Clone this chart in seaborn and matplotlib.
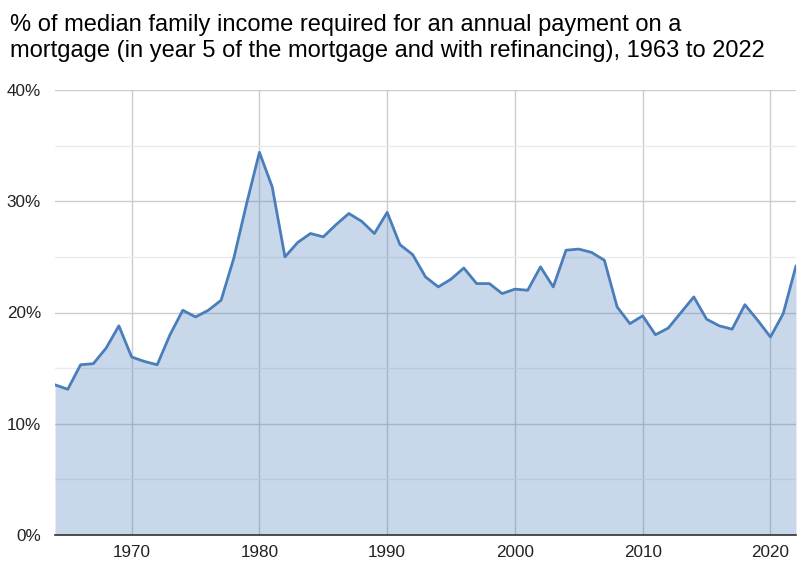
import numpy as np
import pandas as pd
import seaborn as sns
import matplotlib.pyplot as plt
from matplotlib.ticker import FixedLocator, FuncFormatter

# values (% of median family income)
years = list(range(1964, 2023))
share = [13.5, 13.1, 15.3, 15.4, 16.8, 18.8, 16.0, 15.6, 15.3, 18.0,
         20.2, 19.6, 20.2, 21.1, 24.9, 29.8, 34.4, 31.3, 25.0, 26.3,
         27.1, 26.8, 27.9, 28.9, 28.2, 27.1, 29.0, 26.1, 25.2, 23.2,
         22.3, 23.0, 24.0, 22.6, 22.6, 21.7, 22.1, 22.0, 24.1, 22.3,
         25.6, 25.7, 25.4, 24.7, 20.5, 19.0, 19.7, 18.0, 18.6, 20.0,
         21.4, 19.4, 18.8, 18.5, 20.7, 19.3, 17.8, 19.9, 24.2]
decade_ticks = [1970, 1980, 1990, 2000, 2010, 2020]
pct_ticks = [0, 10, 20, 30, 40]
pct_minor = [5, 15, 25, 35]

title_lines = ["% of median family income required for an annual payment on a",
               "mortgage (in year 5 of the mortgage and with refinancing), 1963 to 2022"]

LINE = '#4a7ebb'

sns.set_theme(style='white')
plt.rcParams['font.family'] = ['Liberation Sans', 'DejaVu Sans']

df = pd.DataFrame({'year': years, 'share': share})

fig = plt.figure(figsize=(8.09, 5.74), dpi=100)
ax = fig.add_axes([55 / 809, 1 - 535 / 574, (796 - 55) / 809, (535 - 90) / 574])

ax.fill_between(df['year'], 0, df['share'], color=LINE, alpha=0.3, linewidth=0, zorder=2)
sns.lineplot(data=df, x='year', y='share', color=LINE, linewidth=2,
             ax=ax, zorder=3, solid_joinstyle='round', solid_capstyle='round')

ax.set_xlim(1964, 2022)
ax.set_ylim(0, 40)
ax.xaxis.set_major_locator(FixedLocator(decade_ticks))
ax.yaxis.set_major_locator(FixedLocator(pct_ticks))
ax.yaxis.set_minor_locator(FixedLocator(pct_minor))
ax.yaxis.set_major_formatter(FuncFormatter(lambda v, p: '{:d}%'.format(int(v))))

ax.grid(True, which='major', axis='both', color='#cccccc', linewidth=1, zorder=1)
ax.grid(True, which='minor', axis='y', color='#ebebeb', linewidth=1, zorder=1)
ax.set_axisbelow(True)

for side in ['top', 'right', 'left']:
    ax.spines[side].set_visible(False)
ax.spines['bottom'].set_color('#333333')
ax.spines['bottom'].set_linewidth(1.2)
ax.spines['bottom'].set_zorder(4)

ax.tick_params(axis='both', which='both', length=0, labelsize=12.3, colors='#222222')
ax.tick_params(axis='y', pad=10)
ax.tick_params(axis='x', pad=7)
ax.set_xlabel('')
ax.set_ylabel('')

# title as two lines, baselines placed where the reference has them
for line, base_y in zip(title_lines, [31, 57]):
    fig.text(10 / 809, 1 - base_y / 574, line, ha='left', va='baseline',
             fontsize=17, color='#000000')

fig.savefig('out.png', dpi=100)
